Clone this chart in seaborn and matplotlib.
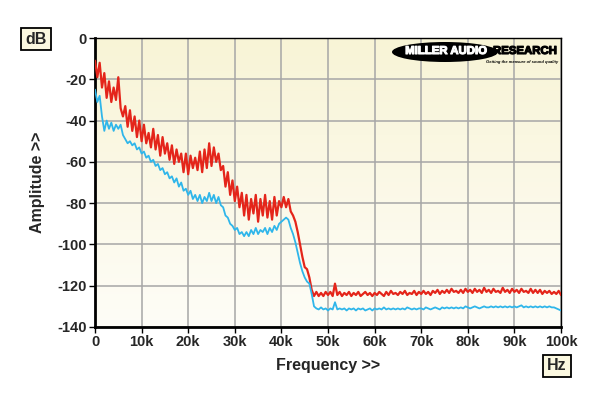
import numpy as np
import pandas as pd
import matplotlib
matplotlib.use("Agg")
import matplotlib.pyplot as plt
import matplotlib.patheffects as pe
from matplotlib.patches import Ellipse
import seaborn as sns

# FFT bin frequencies (kHz), 0.5k spacing
freq_khz = np.arange(0, 100.01, 0.5)

red_db = [
    -11, -19, -12, -24, -17, -29, -21, -31, -24, -30,
    -19, -34, -38, -33, -43, -35, -45, -38, -48, -40,
    -50, -42, -51, -46, -53, -44, -54, -47, -57, -48,
    -56, -51, -59, -52, -61, -54, -60, -56, -65, -56,
    -66, -57, -63, -58, -64, -55, -65, -54, -63, -51,
    -62, -53, -60, -56, -64, -62, -72, -65, -76, -69,
    -79, -72, -82, -75, -86, -76, -88, -78, -85, -76,
    -89, -78, -86, -76, -87, -79, -88, -77, -86, -79,
    -82, -77, -82, -78, -84, -86, -89, -94, -100, -106,
    -111, -112, -116, -122, -125, -123, -125, -123.5, -125, -123,
    -124.5, -123, -125, -119, -124.5, -123, -125, -123.5, -124.5, -123,
    -125, -123.5, -124.5, -123, -125, -124, -123, -124.5, -123.5, -125,
    -123.5, -124.5, -123, -124, -125, -123, -124.5, -122.5, -124, -123.5,
    -124.5, -123, -124, -122.5, -124.5, -123.5, -124, -122.5, -124.5, -123,
    -124, -122.5, -124, -123, -124.5, -122.5, -123.5, -122, -124, -122.5,
    -123.5, -122, -123.5, -121.5, -123, -122.5, -123.5, -122, -123.5, -121.5,
    -123, -122, -123.5, -121.5, -123, -122, -123.5, -121, -123, -122,
    -123.5, -121.5, -123, -122.5, -123.5, -121, -123, -122, -123.5, -121.5,
    -123, -122, -123.5, -121.5, -123, -122.5, -123.5, -121.5, -123.5, -122,
    -123.5, -122, -124, -122.5, -123.5, -122.5, -124, -123, -124, -122.5,
    -124.5,
]

blue_db = [
    -25, -31, -28, -38, -45, -40, -44, -41, -45, -42,
    -44, -42, -47, -49, -51, -50, -52, -51, -54, -53,
    -56, -55, -58, -57, -60, -59, -62, -61, -64, -63,
    -66, -65, -68, -67, -70, -68, -72, -70, -74, -73,
    -76, -74, -78, -76, -79, -76, -80, -77, -79, -75,
    -79, -76, -80, -77, -81, -82, -86, -87, -90, -91,
    -93, -92, -95, -94, -96, -94, -96, -93, -95, -92,
    -95, -93, -94, -92, -95, -92, -94, -91, -93, -90,
    -89, -88, -87, -88, -92, -95, -99, -104, -109, -113,
    -116, -118, -119, -124, -130, -131, -131.5, -130.5, -131.5, -131,
    -132, -131, -131.5, -128, -131.5, -131, -131.5, -131, -132, -131,
    -131.5, -131, -132, -131, -131.5, -131, -132, -131.5, -131, -132,
    -131, -131.5, -131, -131.5, -130.5, -131.5, -131, -131.5, -131, -131.5,
    -131, -131.5, -131, -131.5, -130.5, -131, -131.5, -131, -131.5, -131,
    -131, -131.5, -130.5, -131, -131.5, -131, -130.5, -131, -131.5, -130.5,
    -131, -130.5, -131, -130.5, -131, -130.5, -131, -130.5, -131, -130,
    -130.5, -131, -130.5, -130, -130.5, -131, -130.5, -130, -130.5, -130.5,
    -130, -130.5, -130, -130.5, -130, -130.5, -130, -130.5, -130, -130.5,
    -130, -130.5, -130, -129.5, -130.5, -130, -130.5, -130, -130.5, -130,
    -130.5, -130, -130.5, -130, -130.5, -130, -130.5, -130.5, -131, -131.5,
    -132,
]

x_ticks = [0, 10, 20, 30, 40, 50, 60, 70, 80, 90, 100]
x_labels = ["0", "10k", "20k", "30k", "40k", "50k", "60k", "70k", "80k", "90k", "100k"]
y_ticks = [0, -20, -40, -60, -80, -100, -120, -140]

df = pd.DataFrame({
    "freq": np.concatenate([freq_khz, freq_khz]),
    "db": red_db + blue_db,
    "trace": ["red"] * len(red_db) + ["blue"] * len(blue_db),
})

sns.set_style("white")
plt.rcParams["font.family"] = ["Liberation Sans", "DejaVu Sans"]

fig = plt.figure(figsize=(6, 3.96), dpi=100)
ax = fig.add_axes([95 / 600, 1 - 327 / 396, 466 / 600, 289 / 396])

# cream gradient background (yellower at the top)
grad = np.linspace(0, 1, 256).reshape(-1, 1)
cmap = matplotlib.colors.LinearSegmentedColormap.from_list("cream", ["#f8f4d6", "#fefdf7"])
ax.imshow(grad, aspect="auto", cmap=cmap, extent=[0, 100, -140, 0], origin="upper", zorder=0)

ax.grid(True, color="#a6a6a6", linewidth=1.1, zorder=1)
ax.set_axisbelow(True)

sns.lineplot(data=df, x="freq", y="db", hue="trace",
             palette={"red": "#e4251a", "blue": "#2fb6ea"},
             hue_order=["red", "blue"], legend=False, ax=ax,
             linewidth=1.6, estimator=None, sort=False, zorder=3)
ax.lines[1].set_linewidth(1.3)

ax.set_xlim(0, 100)
ax.set_ylim(-140, 0)
ax.set_xticks(x_ticks)
ax.set_xticklabels(x_labels)
ax.set_yticks(y_ticks)
ax.set_yticklabels([str(v) for v in y_ticks])
ax.tick_params(axis="both", which="both", direction="out", length=4, width=1,
               color="black", labelsize=10.5, pad=2, bottom=True, left=True)
for lab in ax.get_xticklabels() + ax.get_yticklabels():
    lab.set_fontweight("bold")

for side in ["top", "right"]:
    ax.spines[side].set_visible(True)
    ax.spines[side].set_color("black")
    ax.spines[side].set_linewidth(1.0)
for side in ["left", "bottom"]:
    ax.spines[side].set_color("black")
    ax.spines[side].set_linewidth(2.0)

ax.set_xlabel("Frequency >>", fontsize=11.5, fontweight="bold", labelpad=6)
ax.set_ylabel("Amplitude >>", fontsize=11.5, fontweight="bold", labelpad=9)

box = dict(boxstyle="square,pad=0.25", facecolor="#fbf8e0", edgecolor="black", linewidth=1.3)
fig.text(36 / 600, 1 - 39 / 396, "dB", fontsize=11.5, fontweight="bold",
         ha="center", va="center", bbox=box)
fig.text(557 / 600, 1 - 366 / 396, "Hz", fontsize=11.5, fontweight="bold",
         ha="center", va="center", bbox=box)

# logo
ell = Ellipse((445 / 600, 1 - 52 / 396), 106 / 600, 20 / 396, transform=fig.transFigure,
              facecolor="black", edgecolor="none", zorder=5)
fig.patches.append(ell)
fig.text(446 / 600, 1 - 51 / 396, "MILLER AUDIO", color="white", fontsize=8.2,
         fontweight="heavy", ha="center", va="center", zorder=6,
         path_effects=[pe.withStroke(linewidth=0.8, foreground="white")])
fig.text(493 / 600, 1 - 51 / 396, "RESEARCH", color="black", fontsize=8.2,
         fontweight="heavy", ha="left", va="center", zorder=6,
         path_effects=[pe.withStroke(linewidth=0.8, foreground="black")])
fig.text(486 / 600, 1 - 61.5 / 396, "Getting the measure of sound quality", color="black",
         fontsize=3.0, fontweight="bold", style="italic", ha="left", va="center", zorder=6)

fig.savefig("out.png", dpi=100)
